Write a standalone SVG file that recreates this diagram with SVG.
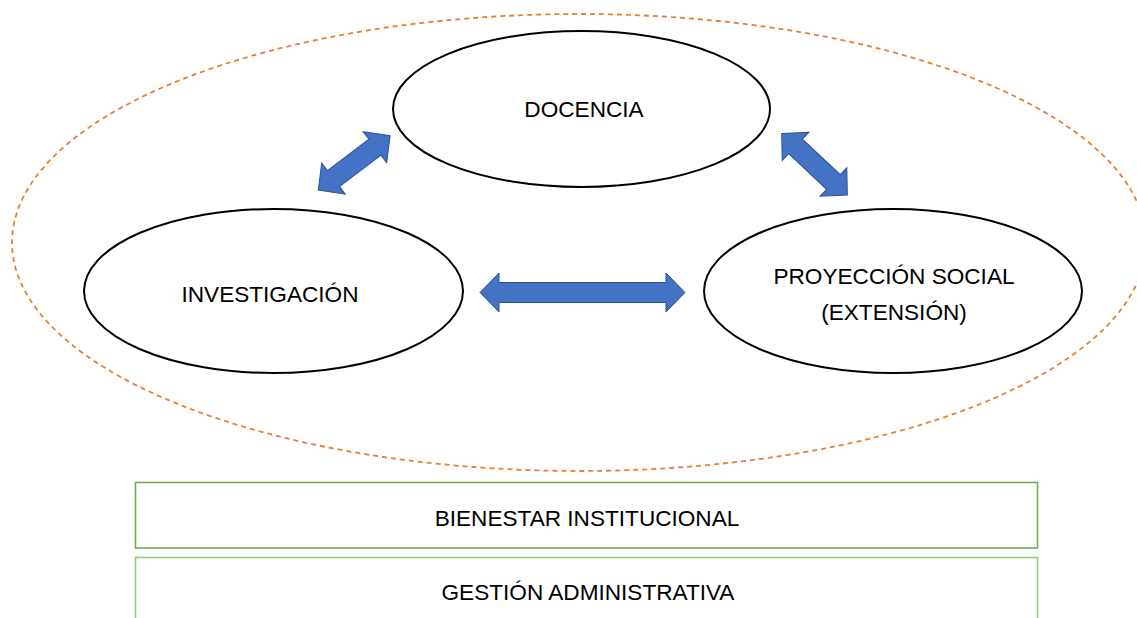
<svg xmlns="http://www.w3.org/2000/svg" width="1137" height="618" viewBox="0 0 1137 618">
  <style>
    .node ellipse { fill: #ffffff; stroke: #000000; stroke-width: 2; }
    .lbl { font-family: "Liberation Sans", Arial, sans-serif; font-size: 22.6px; fill: #000000; text-anchor: middle; }
    .arrow { fill: #4472C4; stroke: #2F528F; stroke-width: 1; stroke-linejoin: miter; }
    .box { fill: #ffffff; stroke-width: 1.6; }
  </style>
  <rect width="1137" height="618" fill="#ffffff"/>
  <g id="boundary">
    <ellipse cx="579" cy="242.5" rx="567" ry="228.5" fill="none" stroke="#ED7D31" stroke-width="1.8" stroke-dasharray="5 4"/>
  </g>
  <g id="docencia" class="node">
    <ellipse cx="581.5" cy="109" rx="188.5" ry="78"/>
    <text class="lbl" x="584" y="117">DOCENCIA</text>
  </g>
  <g id="investigacion" class="node">
    <ellipse cx="273.5" cy="291" rx="189.5" ry="82"/>
    <text class="lbl" x="270" y="301.5">INVESTIGACIÓN</text>
  </g>
  <g id="proyeccion" class="node">
    <ellipse cx="893" cy="291" rx="189" ry="82"/>
    <text class="lbl" x="894" y="284">PROYECCIÓN SOCIAL</text>
    <text class="lbl" x="894" y="320">(EXTENSIÓN)</text>
  </g>
  <g id="connectors">
    <path class="arrow" transform="translate(354.2,162.9) rotate(-37.1)" d="M -45,0 L -26,-19.5 L -26,-10 L 26,-10 L 26,-19.5 L 45,0 L 26,19.5 L 26,10 L -26,10 L -26,19.5 Z"/>
    <path class="arrow" transform="translate(814.5,164.2) rotate(43.2)" d="M -45,0 L -26,-19.5 L -26,-10 L 26,-10 L 26,-19.5 L 45,0 L 26,19.5 L 26,10 L -26,10 L -26,19.5 Z"/>
    <path class="arrow" transform="translate(582.5,292.5)" d="M -102.5,0 L -83.5,-19.5 L -83.5,-10 L 83.5,-10 L 83.5,-19.5 L 102.5,0 L 83.5,19.5 L 83.5,10 L -83.5,10 L -83.5,19.5 Z"/>
  </g>
  <g id="bienestar">
    <rect class="box" x="135.5" y="482.5" width="902" height="65.5" stroke="#70AD47"/>
    <text class="lbl" x="587" y="526">BIENESTAR INSTITUCIONAL</text>
  </g>
  <g id="gestion">
    <rect class="box" x="135.5" y="557.5" width="902" height="70" stroke="#9CC77E"/>
    <text class="lbl" x="588" y="600">GESTIÓN ADMINISTRATIVA</text>
  </g>
</svg>
